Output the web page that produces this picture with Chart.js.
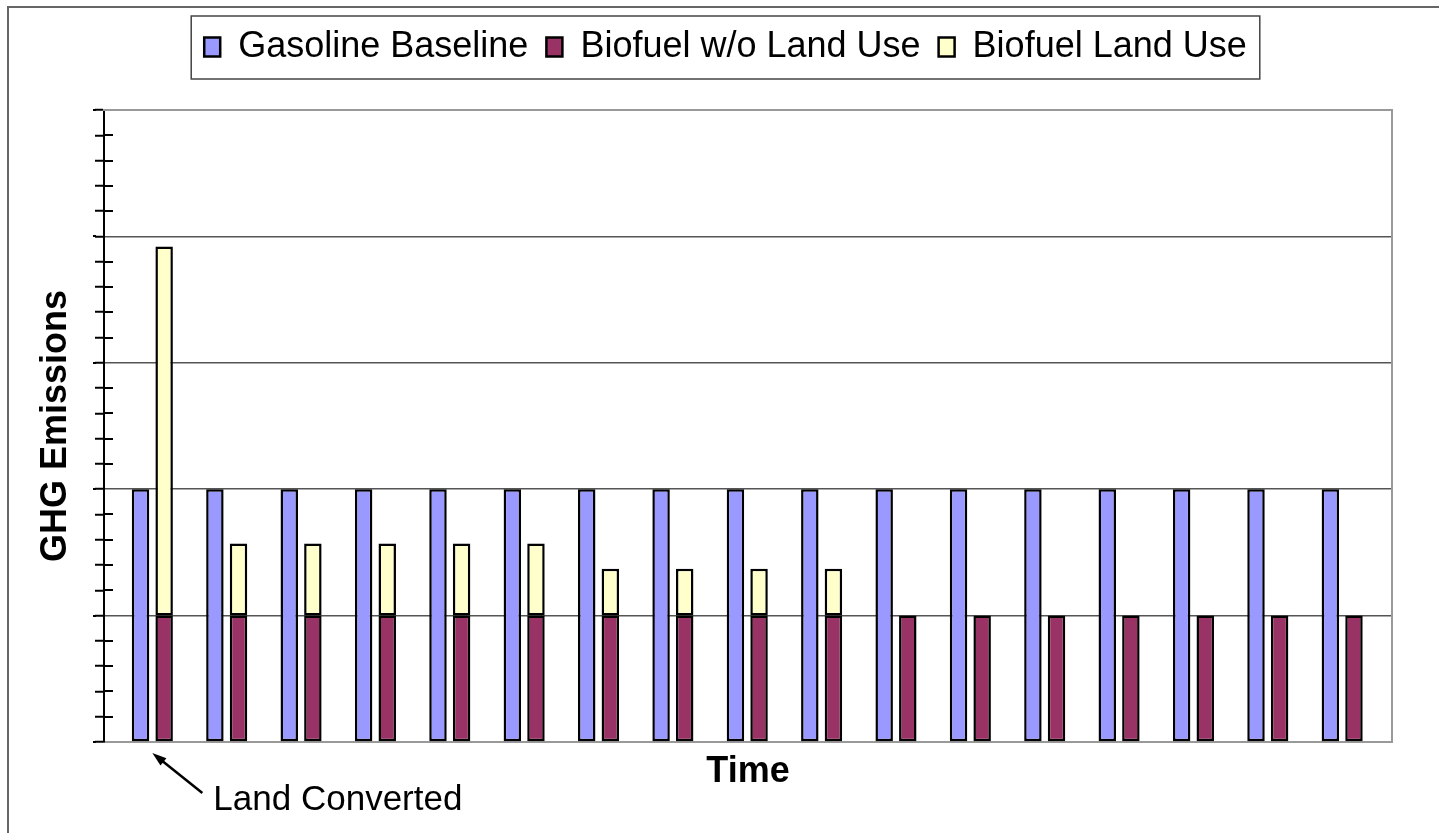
<!DOCTYPE html>
<html>
<head>
<meta charset="utf-8">
<title>GHG Emissions over Time</title>
<script src="https://cdn.jsdelivr.net/npm/chart.js@4.4.1/dist/chart.umd.min.js"></script>
<style>
  html, body { margin: 0; padding: 0; background: #fff; }
  #wrap { position: relative; width: 1439px; height: 833px; }
</style>
</head>
<body>
<div id="wrap"><canvas id="chart"></canvas></div>
<script>
// Time periods along the x axis
const periods = [1, 2, 3, 4, 5, 6, 7, 8, 9, 10, 11, 12, 13, 14, 15, 16, 17];

// Emissions per period (arbitrary units; one minor tick = 1, one gridline = 5)
const gasolineBaseline = [10, 10, 10, 10, 10, 10, 10, 10, 10, 10, 10, 10, 10, 10, 10, 10, 10];
const biofuelNoLandUse = [5, 5, 5, 5, 5, 5, 5, 5, 5, 5, 5, 5, 5, 5, 5, 5, 5];
const biofuelLandUse   = [14.6, 2.85, 2.85, 2.85, 2.85, 2.85, 1.85, 1.85, 1.85, 1.85, 0, 0, 0, 0, 0, 0, 0];

const seriesNames = ['Gasoline Baseline', 'Biofuel w/o Land Use', 'Biofuel Land Use'];
const xTitle = 'Time';
const yTitle = 'GHG Emissions';
const noteText = 'Land Converted';
const notePeriod = 1;

const FONT = "'Liberation Sans', Arial, Helvetica, sans-serif";
Chart.defaults.font.family = FONT;
Chart.defaults.color = '#000';

// Frames, legend box, tick marks crossing the y axis, and the arrow note
const decorations = {
  id: 'decorations',
  beforeDraw(chart) {
    const { ctx, width, height } = chart;
    ctx.save();
    ctx.fillStyle = '#fff';
    ctx.fillRect(0, 0, width, height);
    ctx.strokeStyle = '#666';
    ctx.lineWidth = 2;
    ctx.beginPath();
    ctx.moveTo(8, height);
    ctx.lineTo(8, 7);
    ctx.lineTo(width, 7);
    ctx.stroke();
    ctx.restore();
  },
  afterDraw(chart) {
    const { ctx, chartArea } = chart;
    ctx.save();

    // legend frame
    const boxes = chart.legend.legendHitBoxes;
    if (boxes && boxes.length) {
      const first = boxes[0];
      const last = boxes[boxes.length - 1];
      const l = first.left - 13;
      const r = last.left + last.width + 13;
      const t = first.top - 13;
      const b = first.top + first.height + 14;
      ctx.strokeStyle = '#444';
      ctx.lineWidth = 1.5;
      ctx.strokeRect(l, t, r - l, b - t);
    }

    // y tick marks: minor ones cross into the plot, major ones reach further out
    const ys = chart.scales.y;
    ctx.strokeStyle = '#000';
    ctx.lineWidth = 2;
    ys.ticks.forEach((tk) => {
      const py = Math.round(ys.getPixelForValue(tk.value));
      ctx.beginPath();
      if (tk.value % 5 === 0) {
        ctx.moveTo(chartArea.left - 11, py);
        ctx.lineTo(chartArea.left - 8, py);
      } else {
        ctx.moveTo(chartArea.left, py);
        ctx.lineTo(chartArea.left + 9, py);
      }
      ctx.stroke();
    });

    // arrow note under the first period
    const xs = chart.scales.x;
    const tipX = xs.getPixelForValue(notePeriod);
    const tipY = chartArea.bottom + 11;
    const tailX = tipX + 50;
    const tailY = tipY + 40;
    const ang = Math.atan2(tipY - tailY, tipX - tailX);
    const headLen = 15;
    const spread = 0.32;
    ctx.strokeStyle = '#000';
    ctx.fillStyle = '#000';
    ctx.lineWidth = 2.5;
    ctx.beginPath();
    ctx.moveTo(tailX, tailY);
    ctx.lineTo(tipX - Math.cos(ang) * 8, tipY - Math.sin(ang) * 8);
    ctx.stroke();
    ctx.beginPath();
    ctx.moveTo(tipX, tipY);
    ctx.lineTo(tipX - headLen * Math.cos(ang - spread), tipY - headLen * Math.sin(ang - spread));
    ctx.lineTo(tipX - headLen * Math.cos(ang + spread), tipY - headLen * Math.sin(ang + spread));
    ctx.closePath();
    ctx.fill();

    ctx.font = '35px ' + FONT;
    ctx.textBaseline = 'alphabetic';
    ctx.textAlign = 'left';
    ctx.fillText(noteText, tipX + 61, tipY + 57);
    ctx.restore();
  }
};

const barStyle = {
  borderColor: '#000',
  borderWidth: 2.5,
  borderSkipped: false,
  inflateAmount: 0,
  categoryPercentage: 0.635,
  barPercentage: 0.74,
  xAxisID: 'x',
  yAxisID: 'y'
};

new Chart(document.getElementById('chart'), {
  type: 'bar',
  data: {
    labels: periods,
    datasets: [
      Object.assign({ label: seriesNames[0], data: gasolineBaseline, backgroundColor: '#9999FF', stack: 'gas' }, barStyle),
      Object.assign({ label: seriesNames[1], data: biofuelNoLandUse, backgroundColor: '#993366', stack: 'bio' }, barStyle),
      Object.assign({ label: seriesNames[2], data: biofuelLandUse, backgroundColor: '#FFFFCC', stack: 'bio' }, barStyle)
    ]
  },
  options: {
    responsive: true,
    maintainAspectRatio: false,
    animation: false,
    events: [],
    layout: { padding: { top: 11, left: 12, right: 0, bottom: 39.4 } },
    plugins: {
      tooltip: { enabled: false },
      legend: {
        position: 'top',
        labels: {
          font: { size: 36, family: FONT },
          color: '#000',
          boxWidth: 16,
          boxHeight: 19,
          padding: 18
        }
      }
    },
    scales: {
      x: {
        type: 'linear',
        position: 'bottom',
        offset: false,
        bounds: 'data',
        min: 0.35,
        max: 17.67,
        // one tick per period, so bar widths follow the period spacing
        afterBuildTicks: (scale) => { scale.ticks = periods.map((p) => ({ value: p })); },
        ticks: { display: false },
        grid: { display: false, drawTicks: false },
        border: { display: true, color: '#999', width: 2 },
        title: {
          display: true,
          text: xTitle,
          font: { size: 36, weight: 'bold', family: FONT },
          color: '#000',
          padding: { top: 8.4, bottom: 0 }
        }
      },
      y: {
        type: 'linear',
        position: 'left',
        stacked: true,
        min: 0,
        max: 25,
        ticks: { display: false, stepSize: 1, maxTicksLimit: 30 },
        grid: {
          drawOnChartArea: true,
          drawTicks: true,
          tickLength: 9,
          tickWidth: 2,
          tickColor: '#000',
          lineWidth: 1.5,
          color: (c) => (c.tick && c.tick.value % 5 === 0 && c.tick.value > 0 && c.tick.value < 25) ? '#555' : 'rgba(0,0,0,0)'
        },
        border: { display: true, color: '#000', width: 2 },
        title: {
          display: true,
          text: yTitle,
          font: { size: 36, weight: 'bold', family: FONT },
          color: '#000',
          padding: { top: 22.4, bottom: 17.4 }
        }
      },
      // plot frame (top) and spacing under the legend
      xTop: {
        type: 'linear',
        position: 'top',
        display: true,
        ticks: { display: false },
        grid: { display: true, drawOnChartArea: false, drawTicks: true, tickLength: 35, tickColor: 'rgba(0,0,0,0)' },
        border: { display: true, color: '#999', width: 2 }
      },
      // plot frame (right) and right margin
      yRight: {
        type: 'linear',
        position: 'right',
        display: true,
        ticks: { display: false },
        grid: { display: true, drawOnChartArea: false, drawTicks: true, tickLength: 47, tickColor: 'rgba(0,0,0,0)' },
        border: { display: true, color: '#999', width: 2 }
      }
    }
  },
  plugins: [decorations]
});
</script>
</body>
</html>
